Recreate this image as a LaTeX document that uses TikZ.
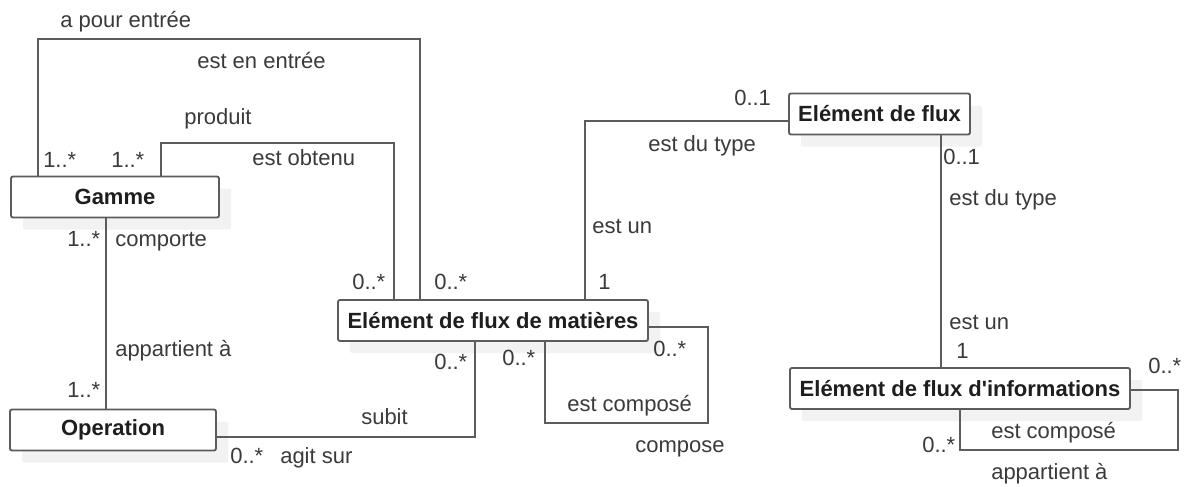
\documentclass[tikz,border=0pt]{standalone}
\usepackage{fontspec}
\setmainfont{Liberation Sans}
\usepackage{tikz}
\usetikzlibrary{shadows}
\definecolor{linegray}{HTML}{5C5C5C}
\definecolor{labelgray}{HTML}{3A3A3A}
\definecolor{boxtext}{HTML}{1E1E1E}
\definecolor{shadowgray}{HTML}{F2F2F2}
\tikzset{
    classbox/.style={
        draw=linegray, fill=white, line width=1.4pt, rounded corners=1.5pt,
        minimum height=30.75pt, inner sep=0pt,
        font=\fontsize{16.5}{19}\selectfont\bfseries, text=boxtext,
        drop shadow={shadow xshift=9pt, shadow yshift=-9pt, fill=shadowgray, opacity=1}
    },
    assoc/.style={draw=linegray, line width=1.4pt},
    role/.style={anchor=base west, inner sep=0pt, font=\fontsize{16.5}{19}\selectfont, text=labelgray},
}

\begin{document}
\begin{tikzpicture}[x=0.75pt, y=-0.75pt]
    \useasboundingbox (0,0) rectangle (1184,486);
    % classes
    \node[classbox, minimum width=156pt] (gamme) at (115,197) {Gamme};
    \node[classbox, minimum width=154.5pt] (operation) at (113,430) {Operation};
    \node[classbox, minimum width=232.5pt] (matieres) at (493,320.5) {Elément de flux de matières};
    \node[classbox, minimum width=135.75pt] (flux) at (879.5,114) {Elément de flux};
    \node[classbox, minimum width=255pt] (infos) at (960,388.5) {Elément de flux d\textquotesingle informations};

    % bends
    \coordinate (e1) at (38,39);
    \coordinate (e2) at (420,39);
    \coordinate (p1) at (161,143);
    \coordinate (p2) at (394,143);
    \coordinate (c1) at (106,0);
    \coordinate (s1) at (475,437);
    \coordinate (m1) at (545,423);
    \coordinate (m2) at (708,423);
    \coordinate (m3) at (708,327);
    \coordinate (t1) at (585,121);
    \coordinate (t2) at (941,0);
    \coordinate (i1) at (1178,390);
    \coordinate (i2) at (1178,450);
    \coordinate (i3) at (960,450);

    % associations
    \draw[assoc] (gamme.north -| e1) -- (e1) -- (e2) -- (matieres.north -| e2);
    \draw[assoc] (gamme.north -| p1) -- (p1) -- (p2) -- (matieres.north -| p2);
    \draw[assoc] (gamme.south -| c1) -- (operation.north -| c1);
    \draw[assoc] (operation.east |- s1) -- (s1) -- (matieres.south -| s1);
    \draw[assoc] (matieres.south -| m1) -- (m1) -- (m2) -- (m3) -- (matieres.east |- m3);
    \draw[assoc] (matieres.north -| t1) -- (t1) -- (flux.west |- t1);
    \draw[assoc] (flux.south -| t2) -- (infos.north -| t2);
    \draw[assoc] (infos.east |- i1) -- (i1) -- (i2) -- (i3) -- (infos.south -| i3);

    % roles and multiplicities
    \node[role] (l1) at (60,27) {a pour entrée};
    \node[role] (l2) at (197,68) {est en entrée};
    \node[role] (l3) at (184,124) {produit};
    \node[role] (l4) at (252,165) {est obtenu};
    \node[role] (l5) at (43,167) {1..*};
    \node[role] (l6) at (111,167) {1..*};
    \node[role] (l7) at (352,289) {0..*};
    \node[role] (l8) at (434,289) {0..*};
    \node[role] (l9) at (67,246) {1..*};
    \node[role] (l10) at (115,246) {comporte};
    \node[role] (l11) at (115,356) {appartient à};
    \node[role] (l12) at (67,397) {1..*};
    \node[role] (l13) at (230,463) {0..*};
    \node[role] (l14) at (280,463) {agit sur};
    \node[role] (l15) at (434,369) {0..*};
    \node[role] (l16) at (361,424) {subit};
    \node[role] (l17) at (502,365) {0..*};
    \node[role] (l18) at (653,356) {0..*};
    \node[role] (l19) at (567,411) {est composé};
    \node[role] (l20) at (635,452) {compose};
    \node[role] (l21) at (734,105) {0..1};
    \node[role] (l22) at (648,151) {est du type};
    \node[role] (l23) at (592,233) {est un};
    \node[role] (l24) at (598,289) {1};
    \node[role] (l25) at (943,164) {0..1};
    \node[role] (l26) at (949,205) {est du type};
    \node[role] (l27) at (949,329) {est un};
    \node[role] (l28) at (956,358) {1};
    \node[role] (l29) at (1148,373) {0..*};
    \node[role] (l30) at (991,438) {est composé};
    \node[role] (l31) at (922,452) {0..*};
    \node[role] (l32) at (991,479) {appartient à};
\end{tikzpicture}
\end{document}
